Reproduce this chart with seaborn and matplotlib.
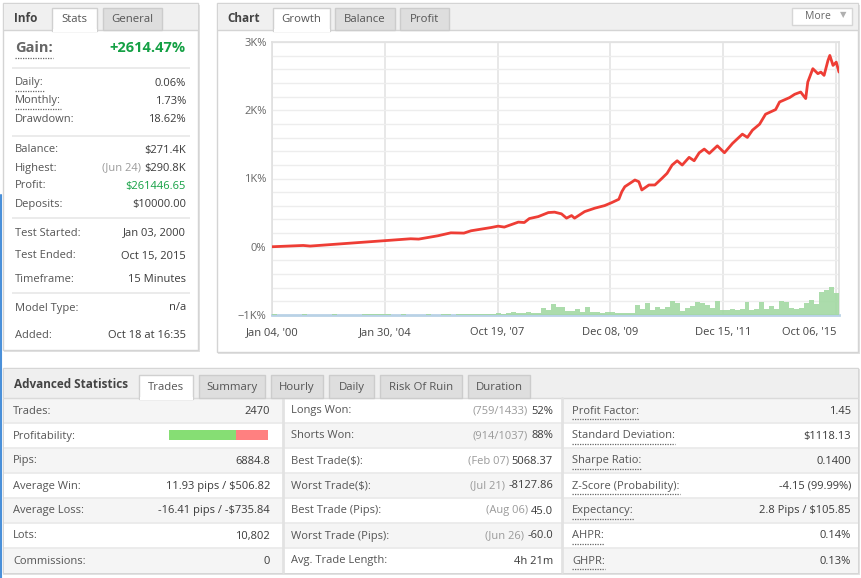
import numpy as np
import matplotlib
matplotlib.use("Agg")
import matplotlib.pyplot as plt
from matplotlib.patches import Rectangle
from matplotlib.ticker import MultipleLocator
import seaborn as sns

# growth curve: trade number -> growth %
trade_no = [0, 136, 166, 285, 486, 604, 639, 723, 779, 836, 867, 955, 985, 1012, 1073,
            1099, 1121, 1160, 1204, 1231, 1261, 1283, 1305, 1318, 1362, 1406, 1449, 1480,
            1511, 1524, 1537, 1581, 1598, 1611, 1642, 1668, 1699, 1721, 1743, 1765, 1787,
            1817, 1839, 1861, 1883, 1905, 1940, 1971, 2006, 2049, 2071, 2093, 2124, 2150,
            2194, 2211, 2255, 2277, 2303, 2325, 2334, 2356, 2378, 2391, 2405, 2422, 2430,
            2444, 2458, 2470]
growth = [0, 19, 10, 39, 88, 117, 112, 161, 204, 200, 234, 282, 302, 288, 361,
          355, 413, 442, 501, 507, 482, 419, 457, 419, 515, 565, 603, 647,
          696, 807, 880, 978, 953, 832, 905, 905, 1003, 1076, 1197, 1260, 1197,
          1310, 1260, 1377, 1431, 1368, 1479, 1377, 1514, 1650, 1602, 1708, 1796, 1942,
          2010, 2121, 2186, 2234, 2267, 2171, 2413, 2609, 2536, 2559, 2511, 2730, 2803,
          2657, 2705, 2559]

# green volume bars at the bottom (relative height, evenly spread over the trades)
volume = [1, 0.5, 0.5, 0.5, 0.5, 0.5, 1.5, 0.5, 0.5, 0.5, 0.5, 0.5, 1, 0.5, 0.5, 0.5, 0.5, 0.5, 1, 1, 1.5, 1,
          1, 1, 0.5, 0.5, 1, 0.5, 0.5, 0.5, 0.5, 1, 0.5, 0.5, 1, 1, 0.5, 1, 1, 1,
          1.5, 1.5, 1, 1.5, 1.5, 2,
          1.5, 2, 3, 2, 2, 3, 2, 2.5,
          7, 5, 11, 8, 8, 4, 4, 6, 3, 8, 3, 3, 2.5, 3, 3, 2, 2, 2, 2.5, 10,
          6, 12, 5, 8, 6, 8, 14, 12, 4, 7, 9, 13, 12, 10, 7, 14, 5, 5, 6, 5,
          6, 13, 5, 6, 13, 6, 9, 6, 14, 13, 7, 6, 7, 12, 15, 11, 23, 25, 28, 22]

x_tick_labels = ["Jan 04, '00", "Jan 30, '04", "Oct 19, '07", "Dec 08, '09", "Dec 15, '11", "Oct 06, '15"]
y_ticks = [-1000, 0, 1000, 2000, 3000]
y_tick_labels = ["\u22121K%", "0%", "1K%", "2K%", "3K%"]

gain_value = "+2614.47%"
info_labels = ["Daily:", "Monthly:", "Drawdown:", "Balance:", "Highest:", "Profit:", "Deposits:",
               "Test Started:", "Test Ended:", "Timeframe:", "Model Type:", "Added:"]
info_notes = ["", "", "", "", "(Jun 24)", "", "", "", "", "", "", ""]
info_values = ["0.06%", "1.73%", "18.62%", "$271.4K", "$290.8K", "$261446.65", "$10000.00",
               "Jan 03, 2000", "Oct 15, 2015", "15 Minutes", "n/a", "Oct 18 at 16:35"]

chart_tabs = ["Growth", "Balance", "Profit"]
adv_tabs = ["Trades", "Summary", "Hourly", "Daily", "Risk Of Ruin", "Duration"]

left_labels = ["Trades:", "Profitability:", "Pips:", "Average Win:", "Average Loss:", "Lots:", "Commissions:"]
left_values = ["2470", "", "6884.8", "11.93 pips / $506.82", "-16.41 pips / -$735.84", "10,802", "0"]
won_trades = 759 + 914
total_trades = 2470

mid_labels = ["Longs Won:", "Shorts Won:", "Best Trade($):", "Worst Trade($):", "Best Trade (Pips):",
              "Worst Trade (Pips):", "Avg. Trade Length:"]
mid_notes = ["(759/1433)", "(914/1037)", "(Feb 07)", "(Jul 21)", "(Aug 06)", "(Jun 26)", ""]
mid_values = ["52%", "88%", "5068.37", "-8127.86", "45.0", "-60.0", "4h 21m"]

right_labels = ["Profit Factor:", "Standard Deviation:", "Sharpe Ratio:", "Z-Score (Probability):",
                "Expectancy:", "AHPR:", "GHPR:"]
right_values = ["1.45", "$1118.13", "0.1400", "-4.15 (99.99%)", "2.8 Pips / $105.85", "0.14%", "0.13%"]

sns.set_style("white")
plt.rcParams['font.family'] = ['Open Sans', 'DejaVu Sans']

W, H = 861, 578
fig = plt.figure(figsize=(W / 100, H / 100), dpi=100)
fig.patch.set_facecolor("white")

# full-figure canvas in pixel coordinates for the panels and text
bg = fig.add_axes([0, 0, 1, 1])
bg.set_xlim(0, W)
bg.set_ylim(H, 0)
bg.axis("off")
renderer = fig.canvas.get_renderer()

LABEL = "#555555"
VALUE = "#3a3a3a"
NOTE = "#9a9a9a"
GREEN = "#14a044"


def rect(x0, y0, x1, y1, fc, ec="none", lw=1, z=1):
    bg.add_patch(Rectangle((x0, y0), x1 - x0, y1 - y0, facecolor=fc, edgecolor=ec, lw=lw, zorder=z))


def hline(x0, x1, y, color="#e6e6e6", lw=1, z=2):
    bg.plot([x0, x1], [y, y], color=color, lw=lw, zorder=z, solid_capstyle="butt")


def txt(x, y, s, ha="left", color=LABEL, size=8, weight="normal", z=5):
    return bg.text(x, y, s, ha=ha, va="center", color=color, fontsize=size, fontweight=weight, zorder=z)


def x_left(t):
    bb = t.get_window_extent(renderer)
    return bg.transData.inverted().transform((bb.x0, bb.y0))[0]


def underline(t, dy=7.5):
    bb = t.get_window_extent(renderer)
    inv = bg.transData.inverted()
    x0 = inv.transform((bb.x0, bb.y0))[0]
    x1 = inv.transform((bb.x1, bb.y0))[0]
    y = t.get_position()[1] + dy
    bg.plot([x0, x1], [y, y], color="#666666", lw=0.9, ls=(0, (1, 1)), zorder=5)


def panel(x0, y0, x1, y1):
    rect(x0 + 1, y0 + 2, x1 + 2, y1 + 2, "#e2e2e2", z=0.5)
    rect(x0, y0, x1, y1, "white", "#d4d4d4", 1, z=1)


def tab(x0, x1, y0, y1, label, active):
    if active:
        rect(x0, y0, x1, y1 + 1, "white", "#d0d0d0", 1, z=3)
        rect(x0 + 0.5, y1 - 1, x1 - 0.5, y1 + 1.5, "white", z=3.5)
        txt((x0 + x1) / 2, (y0 + y1) / 2 + 1, label, ha="center", color="#555555", size=8.2)
    else:
        rect(x0, y0, x1, y1, "#dedede", "#cccccc", 1, z=3)
        txt((x0 + x1) / 2, (y0 + y1) / 2 + 1, label, ha="center", color="#555555", size=8.2)


# blue page edge on the left
bg.plot([1, 1], [195, H], color="#4a90d9", lw=1.5, zorder=6)

# ---------------- Info panel ----------------
panel(3, 3, 198, 350)
rect(3.5, 3.5, 197.5, 30, "#f0f0f0", z=2)
hline(3, 198, 30, "#d4d4d4", 1, z=2.5)
txt(14, 18, "Info", color="#444444", size=8.5, weight="bold")
tab(52, 97, 8, 30, "Stats", True)
tab(103, 162, 8, 30, "General", False)

g = txt(15, 48, "Gain:", color="#666666", size=10.5, weight="bold")
underline(g, 9.5)
txt(186, 48, gain_value, ha="right", color=GREEN, size=10.5, weight="bold")
for ys in [68, 136, 218, 293]:
    hline(12, 190, ys, "#e8e8e8", 1.2)

info_y = [83, 101, 120, 150, 168, 186, 204, 233, 256, 279, 308, 336]
for lab, note, val, y in zip(info_labels, info_notes, info_values, info_y):
    t = txt(15, y, lab)
    if lab in ("Daily:", "Monthly:"):
        underline(t)
    col = GREEN if lab == "Profit:" else VALUE
    v = txt(186, y, val, ha="right", color=col)
    if note:
        txt(x_left(v) - 3, y, note, ha="right", color=NOTE)

# ---------------- Chart panel ----------------
panel(217, 3, 858, 352)
rect(217.5, 3.5, 857.5, 30, "#f0f0f0", z=2)
hline(217, 858, 30, "#d4d4d4", 1, z=2.5)
txt(227, 18, "Chart", color="#444444", size=8.5, weight="bold")
for (x0, x1), lab, act in zip([(273, 330), (335, 395), (400, 449)], chart_tabs, [True, False, False]):
    tab(x0, x1, 8, 30, lab, act)
rect(792, 8, 852, 25, "white", "#d6d6d6", 1, z=3)
txt(805, 16.5, "More", color="#666666", size=7.5)
txt(843, 16, "\u25bc", ha="center", color="#b0b0b0", size=6)

# plot area
px0, px1, py0, py1 = 272, 839, 42, 315
ax = fig.add_axes([px0 / W, 1 - py1 / H, (px1 - px0) / W, (py1 - py0) / H])
ax.set_facecolor("white")
ax2 = ax.twinx()

step = total_trades / len(volume)
bar_x = (np.arange(len(volume)) + 0.5) * step
ax2.bar(bar_x, volume, width=step, color="#a3d9a3", linewidth=0, alpha=0.9)
ax2.set_ylim(0, py1 - py0)
ax2.set_yticks([])
for s in ax2.spines.values():
    s.set_visible(False)

sns.lineplot(x=trade_no, y=growth, ax=ax, color="#ee3d35", linewidth=2.0, zorder=3)
ax.set_xlim(0, total_trades)
ax.set_ylim(-1000, 3000)
ax.set_xticks(np.linspace(0, total_trades * 0.9948, len(x_tick_labels)))
ax.set_xticklabels(x_tick_labels, fontsize=8, color="#444444")
ax.get_xticklabels()[-1].set_horizontalalignment("right")
ax.set_yticks(y_ticks)
ax.set_yticklabels(y_tick_labels, fontsize=8, color="#666666")
ax.yaxis.set_minor_locator(MultipleLocator(200))
ax.tick_params(axis="both", which="both", length=0)
ax.tick_params(axis="x", pad=9)
ax.tick_params(axis="y", pad=4)
ax.grid(True, which="major", axis="x", color="#e6e6e6", lw=1.3)
ax.grid(True, which="both", axis="y", color="#ededed", lw=1.0)
ax.set_axisbelow(True)
for name, s in ax.spines.items():
    s.set_color("#e0e0e0")
    s.set_linewidth(1.2)
ax.spines["bottom"].set_color("#b9d2e6")
ax.spines["bottom"].set_linewidth(2)
ax.set_xlabel("")
ax.set_ylabel("")

# ---------------- Advanced statistics ----------------
rect(3, 369, 860, 575, "#e4e4e4", z=0.5)
rect(3, 368, 858, 573, "white", "#d6d6d6", 1, z=1)
rect(3.5, 368.5, 857.5, 398, "#efefef", z=2)
hline(3, 858, 398, "#dadada", 1, z=2.5)
txt(14, 385, "Advanced Statistics", color="#444444", size=8.5, weight="bold")
tab_x = [(139, 193), (199, 265), (271, 323), (329, 374), (380, 462), (468, 530)]
for (x0, x1), lab, i in zip(tab_x, adv_tabs, range(len(adv_tabs))):
    tab(x0, x1, 375, 398, lab, i == 0)

row_top = 398
row_h = 25
cols = [(3, 283), (283, 562), (562, 858)]
for i in range(len(left_labels)):
    y0 = row_top + i * row_h
    for c, (cx0, cx1) in enumerate(cols):
        shaded = (i % 2 == 0) if c != 1 else (i % 2 == 1)
        rect(cx0 + 0.5, y0, cx1, y0 + row_h, "#f5f5f5" if shaded else "white", z=1.5)
    if i > 0:
        hline(3.5, 857.5, y0, "#e9e9e9", 1.2)
for cx in [283, 562]:
    bg.plot([cx, cx], [398, 572], color="#e2e2e2", lw=2, zorder=2.6)

for i in range(len(left_labels)):
    y = row_top + i * row_h + row_h / 2 + 0.5
    txt(13, y, left_labels[i])
    if left_values[i]:
        txt(270, y, left_values[i], ha="right", color=VALUE)
    txt(291, y, mid_labels[i])
    v = txt(553, y, mid_values[i], ha="right", color=VALUE)
    if mid_notes[i]:
        txt(x_left(v) - 3, y, mid_notes[i], ha="right", color=NOTE)
    t = txt(572, y, right_labels[i])
    underline(t)
    txt(851, y, right_values[i], ha="right", color=VALUE)

# profitability bar
won_frac = won_trades / total_trades
bx0, bx1, by = 169, 268, 435
split = bx0 + (bx1 - bx0) * won_frac
rect(bx0, by - 5, split, by + 5, "#86de74", z=4)
rect(split, by - 5, bx1, by + 5, "#ff8080", z=4)

fig.savefig("out.png", dpi=100)
